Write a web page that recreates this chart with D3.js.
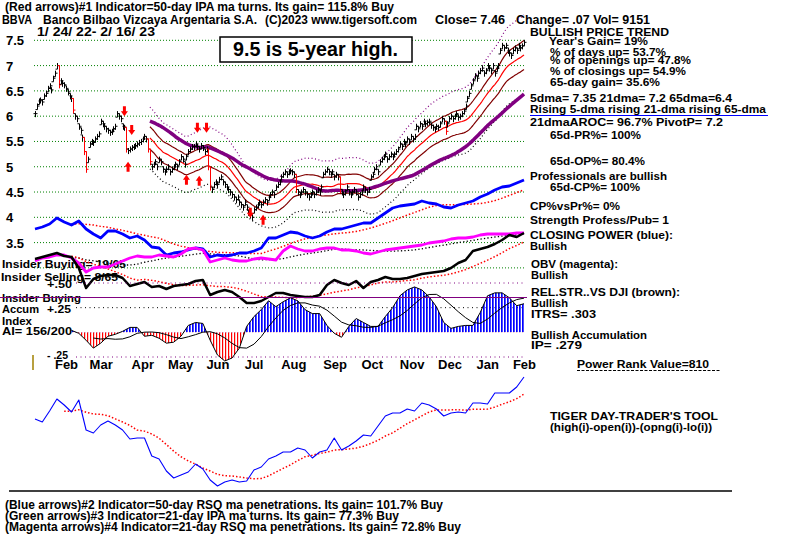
<!DOCTYPE html>
<html>
<head>
<meta charset="utf-8">
<script src="https://cdnjs.cloudflare.com/ajax/libs/d3/7.8.5/d3.min.js"></script>
<style>
  body { margin: 0; background: #fff; }
  svg text { font-family: "Liberation Sans", Arial, sans-serif; font-weight: bold; font-size: 11px; fill: #000; }
</style>
</head>
<body>
<div id="chart"></div>
<script>
// daily closes, Jan 24 2022 .. Feb 16 2023 (269 trading days)
const closes = [
  6.05,6.2,6.3,6.32,6.28,6.4,6.45,6.55,6.6,6.52,
  6.75,6.85,7.0,6.62,6.7,6.65,6.62,6.55,6.48,6.4,
  6.35,6.12,6.0,5.95,5.8,5.72,5.58,5.3,4.95,5.15,
  5.45,5.5,5.48,5.55,5.6,5.65,5.9,5.85,5.8,5.75,
  5.72,5.68,5.7,5.75,5.8,6.05,6.0,5.95,5.8,5.78,
  5.35,5.32,5.35,5.38,5.4,5.42,5.45,5.48,5.5,5.55,
  5.6,5.55,5.35,5.1,5.0,5.05,5.1,5.0,5.15,5.1,
  4.95,4.9,4.95,5.0,4.9,4.95,5.0,5.05,5.0,5.1,
  5.2,5.15,5.05,5.2,5.3,5.35,5.4,5.4,5.45,5.4,
  5.35,5.42,5.38,5.3,5.35,5.0,4.6,4.55,4.65,4.7,
  4.65,4.75,4.8,4.7,4.65,4.6,4.55,4.5,4.45,4.4,
  4.35,4.4,4.3,4.25,4.2,4.3,4.2,4.1,4.05,4.0,
  4.15,4.2,4.25,4.3,4.25,4.3,4.35,4.3,4.4,4.45,
  4.5,4.45,4.6,4.65,4.7,4.8,4.85,4.9,4.85,4.9,
  4.92,4.9,4.85,4.55,4.5,4.45,4.5,4.55,4.5,4.45,
  4.4,4.45,4.5,4.45,4.5,4.55,4.5,4.6,4.85,4.9,
  4.95,4.9,4.85,4.9,4.8,4.85,4.8,4.55,4.5,4.45,
  4.5,4.6,4.5,4.45,4.5,4.55,4.5,4.4,4.45,4.5,
  4.6,4.55,4.5,4.55,4.8,4.85,4.95,5.0,4.9,5.1,
  5.15,5.2,5.25,5.15,5.2,5.25,5.2,5.25,5.3,5.35,
  5.45,5.4,5.5,5.45,5.55,5.5,5.6,5.55,5.6,5.8,
  5.75,5.85,5.8,5.9,5.85,5.88,5.9,5.82,5.78,5.75,
  5.8,5.78,5.85,5.95,5.9,5.7,5.85,5.95,6.0,5.95,
  6.0,6.05,5.98,6.0,6.05,6.1,6.2,6.35,6.45,6.6,
  6.7,6.8,6.75,6.85,6.9,6.95,6.85,6.9,7.0,6.95,
  6.9,7.0,6.85,6.95,7.0,7.3,7.4,7.35,7.4,7.3,
  7.25,7.2,7.3,7.35,7.3,7.4,7.35,7.39,7.46
];

const monthLabels = ["Feb","Mar","Apr","May","Jun","Jul","Aug","Sep","Oct","Nov","Dec","Jan","Feb"];
const monthStartDays = [6, 25, 48, 68, 89, 110, 130, 153, 174, 195, 216, 237, 257];

const priceTicks = [7.5, 7, 6.5, 6, 5.5, 5, 4.5, 4, 3.5];
const priceGrid = [8, 7.5, 7, 6.5, 6, 5.5, 5, 4.5, 4, 3.5, 3];

// red arrow signals
const signalDays   = [49, 53, 89, 94, 118, 51, 83, 90, 125];
const signalDirs   = ["down","down","down","down","down","up","up","up","up"];
const signalPrices = [6.0, 5.63, 5.67, 5.67, 3.99, 5.1, 4.84, 4.82, 4.05];

// indicator series, one value every 4 trading days
const closingPower = [51,53,56,62,58,55,59,51,46,42, 49,49,46,42,44,40,33,32,25,27,
  28,30,32,31,23,25,24,25,27,27, 29,32,42,42,45,48,47,44,42,44,
  48,51,51,53,55,57,57,62,67,72, 74,75,76,79,77,76,73,72,75,77,
  79,83,86,90,93,94,97,100];
const obv = [19,22,23,25,25,22,17,8,12,13, 13,16,19,22,24,23,23,25,24,23,
  26,31,32,30,18,20,22,20,19,19, 21,22,21,20,29,34,31,29,29,31,
  32,32,30,30,29,27,26,28,30,31, 32,33,34,35,37,38,39,41,42,42,
  43,45,46,46,46,46,47,47];
const relStrength = [21,23,25,27,24,23,12,-8,1,4, 5,5,2,-6,-4,-2,-7,-6,-9,-6,
  -5,-4,-1,0,-15,-12,-10,-12,-17,-23, -23,-21,-17,-13,-13,-15,-16,-17,-17,-15,
  -5,0,-3,-5,-1,-8,-2,0,3,1, 1,2,4,6,7,8,9,12,17,20,
  29,31,33,36,40,45,43,47];
const accumIndex = [null,null,null,null,null,
  0.02,-0.01,-0.08,-0.16,-0.11,
  -0.04,-0.02,0.01,0.05,0.05,-0.04,-0.03,-0.06,-0.11,-0.10,
  -0.04,0.07,0.10,0.09,-0.08,-0.23,-0.29,-0.26,-0.16,0.06,
  0.16,0.23,0.32,0.26,0.31,0.35,0.32,0.23,0.19,0.19,
  0.07,-0.01,-0.05,0.06,0.14,0.10,0.06,0.06,0.16,0.25,
  0.37,0.43,0.46,0.43,0.36,0.26,0.10,0.04,0.06,0.07,
  0.07,0.20,0.37,0.40,0.40,0.35,0.27,0.29];
const dayTrader = [81,78,89,101,95,88,100,70,67,75, 79,75,70,61,62,62,44,41,29,22,
  25,28,36,31,20,14,18,20,18,19, 30,33,41,44,48,48,52,50,42,48,
  50,62,50,54,59,65,64,74,84,87, 87,91,89,97,95,91,84,87,88,87,
  97,97,96,107,107,107,113,123];

const width = 800;
const height = 536;

const svg = d3.select("#chart")
              .append("svg")
              .attr("width", width)
              .attr("height", height);

const x = d3.scaleLinear().domain([0, closes.length - 1]).range([35, 524]);
const yPrice = d3.scaleLinear().domain([3.5, 7.5]).range([242.6, 40.3]);
const yInd = d3.scaleLinear().domain([0, 100]).range([280, 180]);
const yAI = d3.scaleLinear().domain([-0.25, 0.5]).range([357, 283]);
const yDT = d3.scaleLinear().domain([0, 100]).range([500, 400]);

const lineDays = closingPower.map((d, i) => i * 4);

function movingAverage(values, win, minCount){
  return values.map((v, i) => {
    const part = values.slice(Math.max(0, i - win + 1), i + 1).filter(d => d != null);
    return (v == null || part.length < minCount) ? null : d3.mean(part);
  });
}

function addText(x0, y0, s, w, size){
  const t = svg.append("text").attr("x", x0).attr("y", y0).text(s);
  if(w) t.attr("textLength", w).attr("lengthAdjust", "spacingAndGlyphs");
  if(size) t.style("font-size", size + "px");
  return t;
}

function drawSeries(values, days, yScale, color, widthPx, dash){
  const pts = values.map((v, i) => [days[i], v]);
  const line = d3.line()
                 .defined(d => d[1] != null)
                 .x(d => x(d[0]))
                 .y(d => yScale(d[1]));
  const p = svg.append("path")
     .attr("d", line(pts))
     .attr("fill", "none")
     .attr("stroke", color)
     .attr("stroke-width", widthPx)
     .attr("stroke-linejoin", "round");
  if(dash) p.attr("stroke-dasharray", dash);
  return p;
}

// ---- price grid
svg.selectAll(".grid")
   .data(priceGrid)
   .enter()
   .append("line")
   .attr("x1", 34).attr("x2", 525)
   .attr("y1", d => yPrice(d)).attr("y2", d => yPrice(d))
   .attr("stroke", "#008000")
   .attr("stroke-width", 1)
   .attr("stroke-dasharray", "1,2");

svg.selectAll(".ptick")
   .data(priceTicks)
   .enter()
   .append("text")
   .attr("x", 6)
   .attr("y", d => yPrice(d) + 5)
   .style("font-size", "13px")
   .text(d => d);

// ---- header (opaque text background like the original)
const header2 = [
  [2, "BBVA", 30], [43, "Banco Bilbao Vizcaya Argentaria S.A.", 214],
  [265, "(C)2023 www.tigersoft.com", 152], [435, "Close=  7.46", 70],
  [516, "Change= .07 Vol= 9151", 134]
];
svg.append("rect").attr("x", 0).attr("y", 13).attr("width", 652).attr("height", 12).attr("fill", "#fff");
addText(5, 11, "(Red arrows)#1 Indicator=50-day IPA ma turns. Its gain= 115.8% Buy", 389, 12);
header2.forEach(h => addText(h[0], 24, h[1], h[2], 12));
addText(37, 36, "1/ 24/ 22- 2/ 16/ 23", 118, 12);

// ---- price bands (21-dma envelopes and 65-dma)
const bandStart = 63;
const ma21 = movingAverage(closes, 21, 21);
const ma65 = movingAverage(closes, 65, 60);
const priceDays = closes.map((d, i) => i);
const fromStart = (arr, f) => arr.map((v, i) => (i < bandStart || v == null) ? null : v * f);

drawSeries(fromStart(ma21, 1.11), priceDays, yPrice, "#800080", 1.2, "1,2.5");
drawSeries(fromStart(ma21, 0.89), priceDays, yPrice, "#000", 1.2, "1,2.5");
drawSeries(fromStart(ma21, 1.04), priceDays, yPrice, "#800000", 1.2);
drawSeries(fromStart(ma21, 0.96), priceDays, yPrice, "#800000", 1.2);
drawSeries(fromStart(ma21, 1), priceDays, yPrice, "#ff0000", 1.2);
drawSeries(fromStart(ma65, 1), priceDays, yPrice, "#800080", 3.5);

// ---- price bars: short hi-lo bars with open tick left, close tick right
const bars = svg.append("g");
closes.forEach((c, i) => {
  const prev = i > 0 ? closes[i - 1] : c;
  const bigDrop = (c - prev) <= -0.2;
  const hi = bigDrop ? prev : c + 0.05;
  const lo = c - 0.07;
  const open = Math.max(lo, Math.min(hi, prev));
  const color = bigDrop ? "#ff0000" : "#000";
  const xi = Math.round(x(i)) + 0.5;
  bars.append("line")
      .attr("x1", xi).attr("x2", xi)
      .attr("y1", yPrice(hi)).attr("y2", yPrice(lo))
      .attr("stroke", color).attr("stroke-width", 1);
  bars.append("line")
      .attr("x1", xi - 2).attr("x2", xi)
      .attr("y1", yPrice(open)).attr("y2", yPrice(open))
      .attr("stroke", color).attr("stroke-width", 1);
  bars.append("line")
      .attr("x1", xi).attr("x2", xi + 2)
      .attr("y1", yPrice(c)).attr("y2", yPrice(c))
      .attr("stroke", color).attr("stroke-width", 1);
});

// ---- arrows
signalDays.forEach((d, i) => {
  const ax = x(d);
  const ay = yPrice(signalPrices[i]);
  const s = signalDirs[i] === "down" ? 1 : -1;
  const path = `M${ax},${ay} L${ax - 3.5},${ay - 5 * s} L${ax - 1.5},${ay - 5 * s} L${ax - 1.5},${ay - 10 * s}` +
               ` L${ax + 1.5},${ay - 10 * s} L${ax + 1.5},${ay - 5 * s} L${ax + 3.5},${ay - 5 * s} Z`;
  svg.append("path").attr("d", path).attr("fill", "#ff0000");
});

// ---- "9.5 is 5-year high." box
svg.append("rect")
   .attr("x", 220).attr("y", 37).attr("width", 192).attr("height", 25)
   .attr("fill", "#fff").attr("stroke", "#000").attr("stroke-width", 1.5);
addText(233, 56, "9.5 is 5-year high.", 165, 20);

// ---- left indicator labels (lines run over them)
addText(2, 268, "Insider Buying= 19/65", 124);
addText(1, 281, "Insider Selling= 8/65", 117);
addText(47, 288, "+.50", 25);
addText(2, 302, "Insider Buying", 79);
addText(2, 313, "Accum", 37);
addText(47, 313, "+.25", 24);
addText(2, 325, "Index", 30);
addText(2, 335, "AI= 156/200", 70);
addText(47, 359, "- .25", 21);

// ---- closing power, OBV, relative strength
drawSeries(movingAverage(closingPower, 8, 6), lineDays, yInd, "#ff0000", 1.5, "1.5,2");
drawSeries(movingAverage(obv, 8, 6), lineDays, yInd, "#000", 1.3, "1.3,2.2");
drawSeries(movingAverage(relStrength, 8, 6), lineDays, yInd, "#ff0000", 1.5, "1.5,2");
drawSeries(closingPower, lineDays, yInd, "#0000ff", 2.8);
drawSeries(obv, lineDays, yInd, "#ff00ff", 2.8);
drawSeries(relStrength, lineDays, yInd, "#000", 2.5);

// ---- accumulation index
const defs = svg.append("defs");
[["blueStripes", "#0000ff", 1.7], ["redStripes", "#ff0000", 1.2]].forEach(p => {
  defs.append("pattern")
      .attr("id", p[0]).attr("patternUnits", "userSpaceOnUse")
      .attr("width", 3).attr("height", 4)
      .append("rect").attr("width", p[2]).attr("height", 4).attr("fill", p[1]);
});
defs.append("clipPath").attr("id", "aboveZero")
    .append("rect").attr("x", 0).attr("y", 0).attr("width", width).attr("height", yAI(0));
defs.append("clipPath").attr("id", "belowZero")
    .append("rect").attr("x", 0).attr("y", yAI(0)).attr("width", width).attr("height", 100);

[[0.5, "#800080"], [0.25, "#000"], [-0.25, "#800080"]].forEach(l => {
  svg.append("line")
     .attr("x1", 76).attr("x2", 526)
     .attr("y1", yAI(l[0])).attr("y2", yAI(l[0]))
     .attr("stroke", l[1]).attr("stroke-width", 1).attr("stroke-dasharray", "1,3.5");
});

const aiPts = accumIndex.map((v, i) => [lineDays[i], v]);
const aiArea = d3.area()
                 .defined(d => d[1] != null)
                 .x(d => x(d[0]))
                 .y0(yAI(0))
                 .y1(d => yAI(d[1]));
svg.append("path").attr("d", aiArea(aiPts)).attr("fill", "url(#blueStripes)").attr("clip-path", "url(#aboveZero)");
svg.append("path").attr("d", aiArea(aiPts)).attr("fill", "url(#redStripes)").attr("clip-path", "url(#belowZero)");
drawSeries(accumIndex, lineDays, yAI, "#000", 1);
drawSeries(movingAverage(accumIndex, 6, 4), lineDays, yAI, "#000", 1);

svg.append("line")
   .attr("x1", 0).attr("x2", 527)
   .attr("y1", 297.5).attr("y2", 297.5)
   .attr("stroke", "#800080").attr("stroke-width", 1.2);

// olive tick
svg.append("line")
   .attr("x1", 33).attr("x2", 33).attr("y1", 355).attr("y2", 370)
   .attr("stroke", "#a08000").attr("stroke-width", 1.5);

// ---- month labels
svg.selectAll(".month")
   .data(monthLabels)
   .enter()
   .append("text")
   .attr("x", (d, i) => x(monthStartDays[i]) + 9)
   .attr("y", 369)
   .style("font-size", "13px")
   .text(d => d);

// ---- day-trader tool panel
drawSeries(movingAverage(dayTrader, 8, 5), lineDays, yDT, "#ff0000", 1.5, "1.5,2");
drawSeries(dayTrader, lineDays, yDT, "#0000ff", 1.1);

svg.append("line")
   .attr("x1", 9).attr("x2", 732).attr("y1", 491).attr("y2", 491)
   .attr("stroke", "#000").attr("stroke-width", 1.5);

// ---- right-hand commentary
const notes = [
  [530, 36, "BULLISH PRICE TREND", 139],
  [549, 45, "Year's Gain= 19%", 99],
  [550, 56, "% of days up= 53.7%", 116],
  [550, 64, "% of openings up= 47.8%", 141],
  [550, 75, "% of closings up= 54.9%", 136],
  [550, 86, "65-day gain= 35.6%", 110],
  [530, 102, "5dma= 7.35 21dma= 7.2 65dma=6.4", 202],
  [530, 113, "Rising 5-dma rising 21-dma rising 65-dma", 236],
  [530, 126, "21dmaAROC= 96.7%  PivotP= 7.2", 193],
  [550, 139, "65d-PR%= 100%", 91],
  [550, 165, "65d-OP%= 80.4%", 95],
  [530, 180, "Professionals are bullish", 137],
  [550, 191, "65d-CP%= 100%", 90],
  [530, 210, "CP%vsPr%=  0%", 90],
  [530, 224, "Strength Profess/Pub= 1", 139],
  [530, 239, "CLOSING POWER (blue):", 143],
  [530, 250, "Bullish", 37],
  [531, 268, "OBV (magenta):", 87],
  [531, 279, "Bullish", 37],
  [531, 296, "REL.STR..VS DJI (brown):", 149],
  [531, 307, "Bullish", 37],
  [531, 318, "ITRS= .303", 65],
  [531, 339, "Bullish Accumulation", 116],
  [531, 349, "IP=  .279", 51],
  [577, 368, "Power Rank Value=810", 132],
  [550, 420, "TIGER DAY-TRADER'S TOOL", 168],
  [550, 431, "(high(i)-open(i))-(opng(i)-lo(i))", 162]
];
notes.forEach(n => addText(n[0], n[1], n[2], n[3]));

svg.append("line")
   .attr("x1", 530).attr("x2", 768).attr("y1", 115.5).attr("y2", 115.5)
   .attr("stroke", "#0000ff").attr("stroke-width", 1.2);
svg.append("line")
   .attr("x1", 577).attr("x2", 720).attr("y1", 370.5).attr("y2", 370.5)
   .attr("stroke", "#000").attr("stroke-width", 1).attr("stroke-dasharray", "3,1.5");

// ---- footer
addText(5, 509, "(Blue arrows)#2 Indicator=50-day RSQ ma penetrations. Its gain= 101.7% Buy", 438, 12);
addText(5, 520, "(Green arrows)#3 Indicator=21-day IPA ma turns. Its gain= 77.3% Buy", 394, 12);
addText(5, 531, "(Magenta arrows)#4 Indicator=21-day RSQ ma penetrations. Its gain= 72.8% Buy", 456, 12);
</script>
</body>
</html>
